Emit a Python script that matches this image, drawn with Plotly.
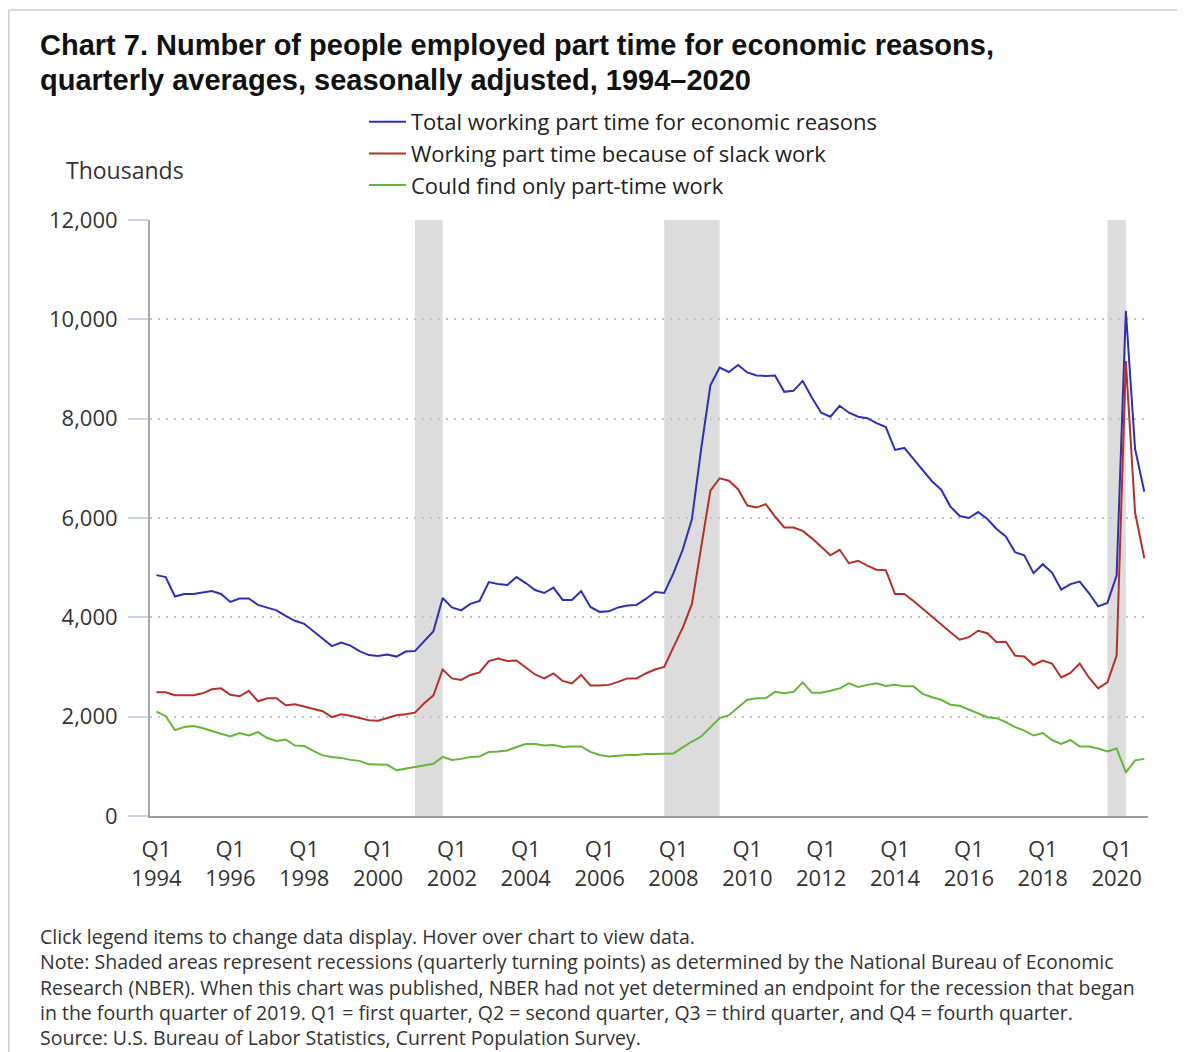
import plotly.graph_objects as go

# ---------------- data ----------------
years = list(range(1994, 2021))
quarters = [f"Q{q} {y}" for y in years for q in (1, 2, 3, 4)]

total_pter = [
    4850, 4810, 4420, 4470, 4470, 4500, 4530, 4470, 4310, 4380, 4380, 4250,
    4190, 4140, 4030, 3930, 3870, 3720, 3580, 3420, 3490, 3430, 3320, 3240,
    3220, 3250, 3210, 3310, 3320, 3520, 3720, 4390, 4200, 4140, 4270, 4330,
    4710, 4670, 4650, 4810, 4690, 4550, 4490, 4600, 4350, 4350, 4530, 4210,
    4110, 4120, 4200, 4240, 4250, 4370, 4510, 4490, 4890, 5360, 5980, 7390,
    8670, 9030, 8940, 9080, 8930, 8870, 8860, 8870, 8540, 8560, 8760, 8420,
    8120, 8040, 8260, 8120, 8040, 8010, 7910, 7830, 7370, 7410, 7190, 6960,
    6740, 6570, 6230, 6040, 6000, 6120, 5980, 5780, 5630, 5310, 5250, 4890,
    5070, 4900, 4560, 4670, 4720, 4490, 4220, 4290, 4840, 10170, 7390, 6530,
]
slack_work = [
    2490, 2490, 2430, 2430, 2430, 2470, 2550, 2570, 2440, 2410, 2520, 2310,
    2370, 2370, 2230, 2250, 2200, 2150, 2110, 1990, 2050, 2020, 1970, 1930,
    1920, 1970, 2030, 2050, 2080, 2270, 2430, 2950, 2770, 2740, 2840, 2890,
    3120, 3170, 3120, 3130, 2990, 2850, 2770, 2870, 2720, 2670, 2840, 2630,
    2630, 2640, 2700, 2770, 2770, 2870, 2950, 3000, 3400, 3790, 4270, 5370,
    6550, 6800, 6750, 6580, 6250, 6210, 6280, 6030, 5810, 5810, 5740, 5590,
    5410, 5250, 5360, 5090, 5140, 5040, 4960, 4950, 4470, 4470, 4330, 4170,
    4010, 3860, 3700, 3550, 3600, 3730, 3680, 3500, 3510, 3230, 3210, 3040,
    3130, 3070, 2790, 2880, 3070, 2790, 2570, 2690, 3230, 9160, 6110, 5190,
]
only_part_time = [
    2100, 2010, 1730, 1790, 1810, 1770, 1710, 1650, 1600, 1670, 1620, 1690,
    1570, 1510, 1540, 1420, 1410, 1310, 1220, 1190, 1170, 1130, 1110, 1040,
    1030, 1030, 920, 950, 980, 1010, 1050, 1190, 1130, 1150, 1190, 1200,
    1290, 1300, 1320, 1390, 1450, 1450, 1420, 1430, 1390, 1400, 1400, 1290,
    1230, 1200, 1220, 1230, 1230, 1250, 1250, 1260, 1260, 1380, 1500, 1600,
    1790, 1970, 2030, 2190, 2340, 2370, 2370, 2500, 2470, 2500, 2690, 2480,
    2480, 2520, 2570, 2670, 2600, 2640, 2670, 2620, 2640, 2610, 2610, 2460,
    2390, 2340, 2240, 2220, 2140, 2070, 1990, 1970, 1890, 1790, 1720, 1620,
    1670, 1530, 1450, 1530, 1400, 1400, 1360, 1300, 1360, 880, 1120, 1150,
]
series_names = [
    "Total working part time for economic reasons",
    "Working part time because of slack work",
    "Could find only part-time work",
]
series_colors = ["#2f2fb3", "#b3302e", "#68b43a"]

recessions = [("Q1 2001", "Q4 2001"), ("Q4 2007", "Q2 2009"), ("Q4 2019", "Q2 2020")]
tick_quarters = [f"Q1 {y}" for y in range(1994, 2021, 2)]
tick_text = [f"Q1<br>{y}" for y in range(1994, 2021, 2)]
y_ticks = [0, 2000, 4000, 6000, 8000, 10000, 12000]

title_lines = [
    "Chart 7. Number of people employed part time for economic reasons,",
    "quarterly averages, seasonally adjusted, 1994\u20132020",
]
notes = [
    "Click legend items to change data display. Hover over chart to view data.",
    "Note: Shaded areas represent recessions (quarterly turning points) as determined by the National Bureau of Economic",
    "Research (NBER). When this chart was published, NBER had not yet determined an endpoint for the recession that began",
    "in the fourth quarter of 2019. Q1 = first quarter, Q2 = second quarter, Q3 = third quarter, and Q4 = fourth quarter.",
    "Source: U.S. Bureau of Labor Statistics, Current Population Survey.",
]

# ---------------- layout geometry (page pixels) ----------------
PAGE_W, PAGE_H = 1195, 1052
OFF = 8  # default body margin of the html page
W, H = PAGE_W - OFF, PAGE_H - OFF
L, R, T, B = 150, 1148, 220, 816


def px_x(px):
    return (px - L) / (R - L)


def px_y(py):
    return (B - py) / (B - T)


FONT = "'Open Sans', Lato, sans-serif"
TXT = "#333333"

fig = go.Figure()
for name, vals, col in zip(series_names, [total_pter, slack_work, only_part_time], series_colors):
    fig.add_trace(go.Scatter(
        x=quarters, y=vals, name=name, mode="lines",
        line=dict(color=col, width=2),
        hovertemplate="%{x}: %{y:,}<extra>" + name + "</extra>",
    ))

for x0, x1 in recessions:
    fig.add_shape(type="rect", xref="x", yref="paper", x0=x0, x1=x1, y0=0, y1=1,
                  fillcolor="#dcdcdc", line_width=0, layer="below")

# outer card border (top and left)
fig.add_shape(type="line", xref="paper", yref="paper",
              x0=px_x(8.8), x1=px_x(1177), y0=px_y(10), y1=px_y(10),
              line=dict(color="#cccccc", width=1.5))
fig.add_shape(type="line", xref="paper", yref="paper",
              x0=px_x(8.8), x1=px_x(8.8), y0=px_y(10), y1=px_y(1060),
              line=dict(color="#cccccc", width=1.5))

# title lines
for line, cy in zip(title_lines, [45, 80]):
    fig.add_annotation(text="<b>" + line + "</b>", xref="paper", yref="paper",
                       x=px_x(38), y=px_y(cy), xanchor="left", yanchor="middle",
                       showarrow=False,
                       font=dict(family="'Liberation Sans', Arial, sans-serif", size=29, color="#111111"))

fig.add_annotation(text="Thousands", xref="paper", yref="paper",
                   x=px_x(64), y=px_y(170), xanchor="left", yanchor="middle",
                   showarrow=False, font=dict(family=FONT, size=23, color=TXT))

fig.add_annotation(text="<br>".join(notes), xref="paper", yref="paper",
                   x=px_x(38), y=px_y(921), xanchor="left", yanchor="top", align="left",
                   showarrow=False, font=dict(family=FONT, size=19.5, color=TXT))

fig.update_layout(
    width=W, height=H,
    margin=dict(l=L - OFF, r=PAGE_W - R, t=T - OFF, b=PAGE_H - B, autoexpand=False),
    paper_bgcolor="white", plot_bgcolor="white",
    font=dict(family=FONT, color=TXT),
    showlegend=True,
    legend=dict(
        xref="container", yref="container", x=(364 - OFF) / W, y=1 - (101 - OFF) / H,
        xanchor="left", yanchor="top", orientation="v",
        font=dict(family=FONT, size=22, color="#222222"),
        itemwidth=37, bgcolor="rgba(0,0,0,0)", borderwidth=0,
    ),
    xaxis=dict(
        type="category", categoryorder="array", categoryarray=quarters,
        range=[-0.7, 107.4],
        tickmode="array", tickvals=tick_quarters, ticktext=tick_text,
        tickangle=0, ticks="", showgrid=False, zeroline=False,
        ticklabelstandoff=13,
        showline=True, linecolor="#9a9a9a", linewidth=2,
        tickfont=dict(family=FONT, size=22, color=TXT),
    ),
    yaxis=dict(
        range=[0, 12000], tickmode="array", tickvals=y_ticks,
        tickformat=",d", ticks="outside", ticklen=20, tickcolor="#c5d3e3", tickwidth=1.5,
        ticklabelstandoff=6,
        showgrid=True, gridcolor="#c4c4c4", gridwidth=2, griddash="2px,6px",
        zeroline=False, showline=True, linecolor="#a8a8a8", linewidth=2,
        tickfont=dict(family=FONT, size=22, color=TXT),
    ),
)

fig.write_html("out.html")
